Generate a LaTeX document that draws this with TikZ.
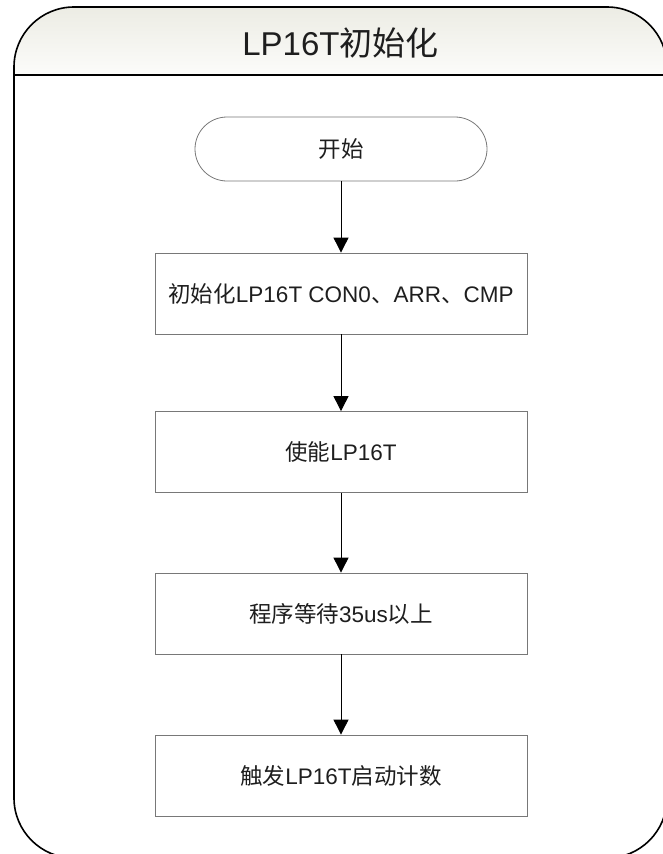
\documentclass[tikz,border=0pt]{standalone}
\usepackage{fontspec}
\setmainfont{Liberation Sans}
\newfontfamily\cjk{Noto Sans CJK SC}
\usetikzlibrary{arrows.meta}
\definecolor{boxgray}{RGB}{120,120,120}
\definecolor{textc}{RGB}{30,30,30}
\definecolor{bandtop}{RGB}{236,236,228}
\definecolor{bandbot}{RGB}{252,252,250}
\begin{document}
\begin{tikzpicture}[x=1pt,y=-1pt,
  procbox/.style={draw=boxgray, line width=0.8pt, minimum width=372pt, minimum height=81pt, inner sep=0pt, font=\fontsize{22.5}{27}\selectfont, text=textc},
  termbox/.style={draw=boxgray, line width=0.8pt, rounded corners=32pt, minimum width=292pt, minimum height=64pt, inner sep=0pt, font=\fontsize{22.5}{27}\selectfont, text=textc},
  flow/.style={draw=black, line width=0.9pt, -{Triangle[length=15pt,width=15pt]}},
  frameline/.style={draw=black, line width=1.6pt}]
\useasboundingbox (0,0) rectangle (662,854);
% outer frame with title band
\begin{scope}
  \clip[rounded corners=60pt] (14,7) rectangle (667,858);
  \shade[top color=bandtop, bottom color=bandbot] (14,7) rectangle (667,75);
\end{scope}
\draw[frameline, rounded corners=60pt] (14,7) rectangle (667,858);
\coordinate (bandL) at (14,75);
\coordinate (bandR) at (667,75);
\draw[frameline] (bandL) -- (bandR);
\node[font=\fontsize{33}{40}\selectfont, text=textc, inner sep=0pt] (title) at (340.5,43) {LP16T{\cjk 初始化}};
% flow
\node[termbox] (start) at (341,149) {{\cjk 开始}};
\node[procbox] (b1) at (341,293.5) {{\cjk 初始化}LP16T CON0{\cjk 、}ARR{\cjk 、}CMP};
\node[procbox] (b2) at (341,452) {{\cjk 使能}LP16T};
\node[procbox] (b3) at (341,613.5) {{\cjk 程序等待}35us{\cjk 以上}};
\node[procbox] (b4) at (341,775.5) {{\cjk 触发}LP16T{\cjk 启动计数}};
\draw[flow] (start) -- (b1);
\draw[flow] (b1) -- (b2);
\draw[flow] (b2) -- (b3);
\draw[flow] (b3) -- (b4);
\end{tikzpicture}
\end{document}
